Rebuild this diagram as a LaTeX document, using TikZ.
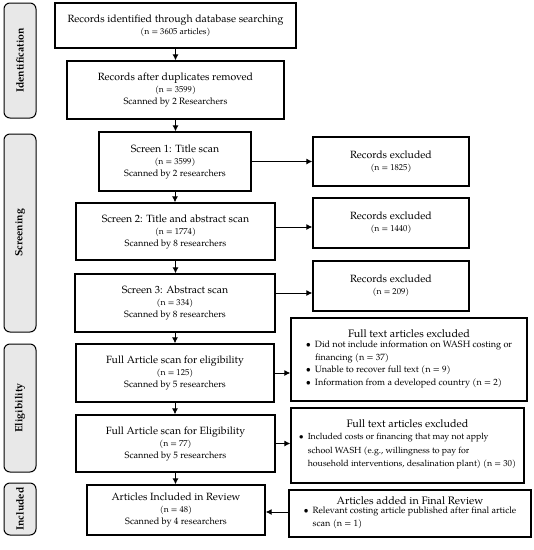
\documentclass[tikz,border=0pt]{standalone}
\usepackage{fontspec}
\setmainfont{TeX Gyre Pagella}
\usetikzlibrary{arrows.meta,calc}
\newcommand\ttlf{\fontsize{10.5}{12.5}\selectfont}
\newcommand\nnf{\fontsize{8.6}{12.5}\selectfont}
\newcommand\scnf{\fontsize{9.2}{12.5}\selectfont}
\newcommand\blf{\fontsize{9.1}{12.6}\selectfont}
\newcommand\blwf{\fontsize{8.8}{13.8}\selectfont}
\newcommand\hdf{\fontsize{10.8}{12.5}\selectfont}
\begin{document}
\begin{tikzpicture}[x=1pt,y=-1pt,
 box/.style={draw, line width=1.3pt, inner sep=0pt, align=center},
 side/.style={draw, line width=1pt, rounded corners=6pt, fill=gray!18, inner sep=0pt, rotate=90, font=\bfseries\fontsize{10.5}{12}\selectfont},
 arr/.style={-{Latex[length=6pt,width=6pt]}, line width=1pt}]
\useasboundingbox (0,0) rectangle (534,550);
% side labels
\node[side, minimum width=115pt, minimum height=32pt] (sid) at (20,60.5) {Identification};
\node[side, minimum width=198pt, minimum height=32pt] (ssc) at (20,233) {Screening};
\node[side, minimum width=128pt, minimum height=32pt] (sel) at (20,408) {Eligibility};
\node[side, minimum width=52pt, minimum height=32pt] (sin) at (20,509) {Included};
% main flow
\node[box, minimum width=241pt, minimum height=45pt] (id1) at (175.5,25.5) {\ttlf Records identified through database searching\\\nnf (n = 3605 articles)};
\node[box, minimum width=217pt, minimum height=58pt] (id2) at (175.5,90) {\ttlf Records after duplicates removed\\\nnf (n = 3599)\\\scnf Scanned by 2 Researchers};
\node[box, minimum width=152pt, minimum height=59pt] (s1) at (175,161.5) {\ttlf Screen 1: Title scan\\\nnf (n = 3599)\\\scnf Scanned by 2 researchers};
\node[box, minimum width=199pt, minimum height=57pt] (s2) at (175.5,231.5) {\ttlf Screen 2: Title and abstract scan\\\nnf (n = 1774)\\\scnf Scanned by 8 researchers};
\node[box, minimum width=200pt, minimum height=58pt] (s3) at (175,303) {\ttlf Screen 3: Abstract scan\\\nnf (n = 334)\\\scnf Scanned by 8 researchers};
\node[box, minimum width=198pt, minimum height=58pt] (e1) at (175,373) {\ttlf Full Article scan for eligibility\\\nnf (n = 125)\\\scnf Scanned by 5 researchers};
\node[box, minimum width=199pt, minimum height=57pt] (e2) at (175.5,443.5) {\ttlf Full Article scan for Eligibility\\\nnf (n = 77)\\\scnf Scanned by 5 researchers};
\node[box, minimum width=178pt, minimum height=50pt] (inc) at (176,510) {\ttlf Articles Included in Review\\\nnf (n = 48)\\\scnf Scanned by 4 researchers};
% right boxes
\node[box, minimum width=156pt, minimum height=49pt] (re1) at (391,161.5) {\ttlf Records excluded\\\nnf (n = 1825)};
\node[box, minimum width=156pt, minimum height=50pt] (re2) at (391,223) {\ttlf Records excluded\\\nnf (n = 1440)};
\node[box, minimum width=156pt, minimum height=50pt] (re3) at (391,286) {\ttlf Records excluded\\\nnf (n = 209)};
\node[box, minimum width=236pt, minimum height=83pt] (fte1) at (409,359.5) {\hdf Full text articles excluded\\[-0.5pt]
\blf\begin{tabular}{@{}l@{\hspace{4pt}}l@{}}
\textbullet & Did not include information on WASH costing or\\
 & financing (n = 37)\\
\textbullet & Unable to recover full text (n = 9)\\
\textbullet & Information from a developed country (n = 2)
\end{tabular}};
\node[box, minimum width=233pt, minimum height=75pt] (fte2) at (407.5,445.5) {\hdf Full text articles excluded\\[0.5pt]
\blwf\begin{tabular}{@{}l@{\hspace{4pt}}l@{}}
\textbullet & Included costs or financing that may not apply\\
 & school WASH (e.g., willingness to pay for\\
 & household interventions, desalination plant) (n = 30)
\end{tabular}};
\node[box, minimum width=242pt, minimum height=47pt] (aa) at (410,513.5) {\hdf Articles added in Final Review\\[-1pt]
\blf\begin{tabular}{@{}l@{\hspace{4pt}}l@{}}
\textbullet & Relevant costing article published after final article\\
 & scan (n = 1)
\end{tabular}};
% arrows
\draw[arr] (id1.south) -- (id1.south |- id2.north);
\draw[arr] (id2.south) -- (id2.south |- s1.north);
\draw[arr] (s1.south) -- (s1.south |- s2.north);
\draw[arr] (s2.south) -- (s2.south |- s3.north);
\draw[arr] (s3.south) -- (s3.south |- e1.north);
\draw[arr] (e1.south) -- (e1.south |- e2.north);
\draw[arr] (e2.south) -- (e2.south |- inc.north);
\draw[arr] (s1.east) -- (s1.east -| re1.west);
\draw[arr] (s2.east |- 0,227) -- (re2.west |- 0,227);
\draw[arr] (s3.east |- 0,293) -- (re3.west |- 0,293);
\draw[arr] (e1.east) -- (e1.east -| fte1.west);
\draw[arr] (e2.east) -- (e2.east -| fte2.west);
\draw[arr] (aa.west |- 0,512) -- (inc.east |- 0,512);
\end{tikzpicture}
\end{document}
